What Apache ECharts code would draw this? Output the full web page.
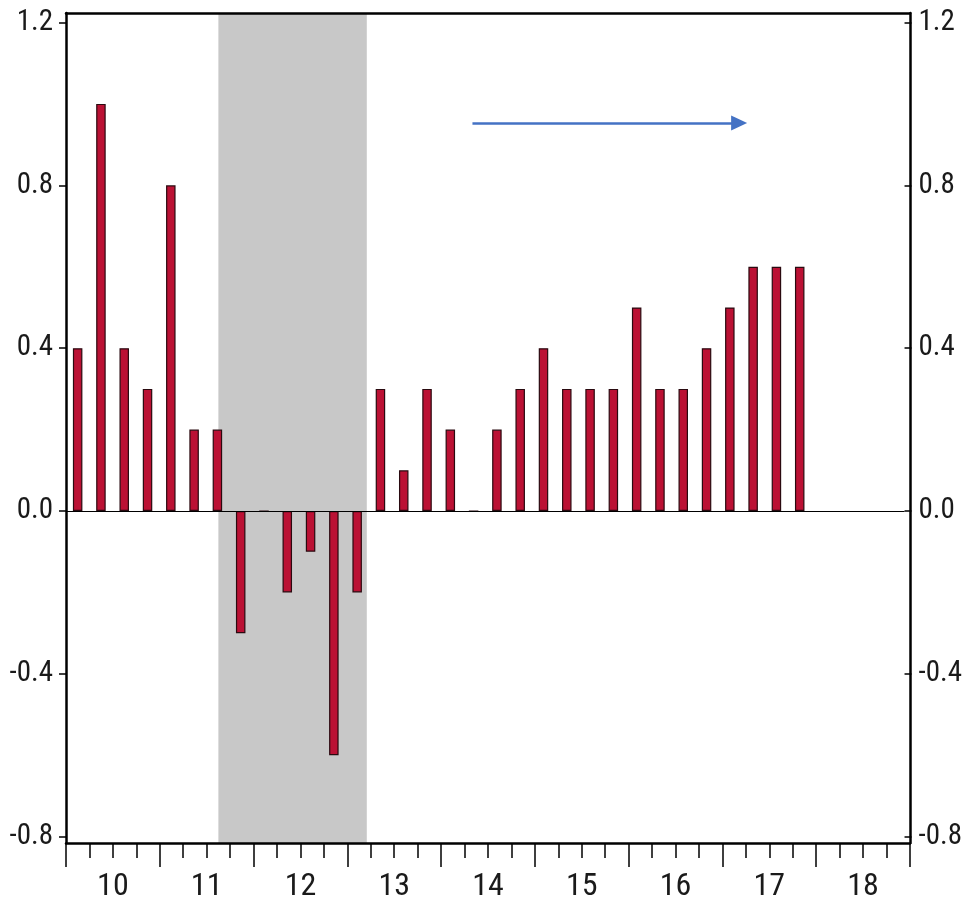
<!DOCTYPE html>
<html>
<head>
<meta charset="utf-8">
<script src="https://cdn.jsdelivr.net/npm/echarts@6/dist/echarts.min.js"></script>
<style>html,body{margin:0;padding:0;background:#fff}#c{width:965px;height:904px}</style>
</head>
<body>
<div id="c"></div>
<script>
// Quarterly categories (2010Q1 .. 2017Q4)
const quarters = ['2010Q1','2010Q2','2010Q3','2010Q4','2011Q1','2011Q2','2011Q3','2011Q4',
  '2012Q1','2012Q2','2012Q3','2012Q4','2013Q1','2013Q2','2013Q3','2013Q4',
  '2014Q1','2014Q2','2014Q3','2014Q4','2015Q1','2015Q2','2015Q3','2015Q4',
  '2016Q1','2016Q2','2016Q3','2016Q4','2017Q1','2017Q2','2017Q3','2017Q4'];
const values = [0.4, 1.0, 0.4, 0.3, 0.8, 0.2, 0.2, -0.3,
  0.0, -0.2, -0.1, -0.6, -0.2, 0.3, 0.1, 0.3,
  0.2, 0.0, 0.2, 0.3, 0.4, 0.3, 0.3, 0.3,
  0.5, 0.3, 0.3, 0.4, 0.5, 0.6, 0.6, 0.6];
// Year tick labels (2010 .. 2018)
const yearLabels = ['10','11','12','13','14','15','16','17','18'];
// Shaded period, in quarters from 2010Q1 start
const shadeStart = 6.5;
const shadeEnd = 12.83;
// Arrow annotation (quarters, value)
const arrowFrom = [17.45, 0.953];
const arrowTo = [28.9, 0.953];

const FONT = '"Roboto Condensed", "Liberation Sans", Arial, sans-serif';
const txt = '#1a1a1a';
const nQ = yearLabels.length * 4;

const chart = echarts.init(document.getElementById('c'), null, {renderer: 'canvas'});
const yLab = {fontSize: 29, color: txt, fontFamily: FONT, formatter: v => v.toFixed(1)};
chart.setOption({
  animation: false,
  backgroundColor: '#ffffff',
  grid: [
    {left: 66, right: 55, top: 22.5, bottom: 67.3},
    {left: 66, right: 55, top: 13, bottom: 61}
  ],
  xAxis: [
    {gridIndex: 0, type: 'value', min: 0, max: nQ, show: false},
    // frame top
    {gridIndex: 1, type: 'value', min: 0, max: nQ, position: 'top', z: 10,
     axisLine: {show: true, onZero: false, lineStyle: {color: '#000', width: 2.5}},
     axisTick: {show: false}, axisLabel: {show: false}, splitLine: {show: false}},
    // bottom tick axis
    {gridIndex: 1, type: 'value', min: 0, max: nQ, interval: 4, position: 'bottom', z: 10,
     axisLine: {show: true, onZero: false, lineStyle: {color: '#000', width: 2.5}},
     axisTick: {show: true, length: 24, lineStyle: {color: '#000', width: 1.5}},
     minorTick: {show: true, splitNumber: 4, length: 15, lineStyle: {color: '#000', width: 1.5}},
     axisLabel: {show: false}, splitLine: {show: false}, minorSplitLine: {show: false}},
    // year labels
    {gridIndex: 1, type: 'category', data: yearLabels, position: 'bottom', boundaryGap: true,
     axisLine: {show: false}, axisTick: {show: false}, splitLine: {show: false},
     axisLabel: {fontSize: 32, color: txt, fontFamily: FONT, margin: 28}}
  ],
  yAxis: [
    {gridIndex: 0, type: 'value', min: -0.8, max: 1.2, interval: 0.4, position: 'left',
     axisLine: {show: false, onZero: false},
     axisTick: {show: true, length: 7, lineStyle: {color: '#000', width: 1.5}},
     axisLabel: Object.assign({margin: 13}, yLab), splitLine: {show: false}},
    {gridIndex: 0, type: 'value', min: -0.8, max: 1.2, interval: 0.4, position: 'right',
     axisLine: {show: false, onZero: false},
     axisTick: {show: true, length: 7, lineStyle: {color: '#000', width: 1.5}},
     axisLabel: Object.assign({margin: 14}, yLab), splitLine: {show: false}},
    {gridIndex: 1, type: 'value', min: 0, max: 1, position: 'left', z: 10,
     axisLine: {show: true, onZero: false, lineStyle: {color: '#000', width: 2.5}},
     axisTick: {show: false}, axisLabel: {show: false}, splitLine: {show: false}},
    {gridIndex: 1, type: 'value', min: 0, max: 1, position: 'right', z: 10,
     axisLine: {show: true, onZero: false, lineStyle: {color: '#000', width: 2.5}},
     axisTick: {show: false}, axisLabel: {show: false}, splitLine: {show: false}}
  ],
  series: [
    {
      type: 'line', xAxisIndex: 1, yAxisIndex: 2, data: [], z: 1, silent: true,
      markArea: {silent: true, itemStyle: {color: '#c8c8c8', opacity: 1},
        data: [[{xAxis: shadeStart}, {xAxis: shadeEnd}]]}
    },
    {
      type: 'bar', xAxisIndex: 0, yAxisIndex: 0, z: 3, barWidth: 9.5,
      name: 'value',
      data: values.map((v, i) => ({name: quarters[i], value: [i + 0.5, v]})),
      itemStyle: {color: '#bb1134', borderColor: '#2a0a10', borderWidth: 1.2},
      markLine: {silent: true, symbol: 'none', label: {show: false},
        lineStyle: {color: '#000', width: 1.2, type: 'solid'},
        data: [{yAxis: 0}]}
    },
    {
      type: 'line', xAxisIndex: 0, yAxisIndex: 1, data: [], z: 4, silent: true,
      markLine: {silent: true, symbol: ['none', 'triangle'], symbolSize: [15, 16],
        label: {show: false},
        lineStyle: {color: '#4472c4', width: 2.5, type: 'solid'},
        data: [[{coord: arrowFrom}, {coord: arrowTo}]]}
    }
  ]
});
</script>
</body>
</html>
